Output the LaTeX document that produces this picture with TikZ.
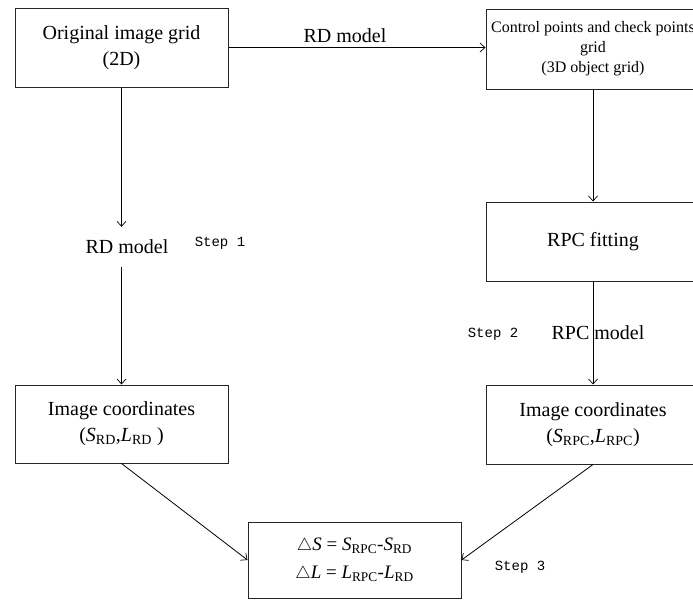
\documentclass[tikz,border=0pt]{standalone}
\usepackage{fontspec}
\setmainfont{Liberation Serif}
\newfontfamily\stepfont{Liberation Mono}
\usetikzlibrary{arrows.meta}
\begin{document}
\begin{tikzpicture}[x=1pt,y=-1pt,
  box/.style={draw=black!85,line width=1pt,minimum width=213pt,inner sep=0pt,align=center,font=\fontsize{20}{26}\selectfont},
  lbl/.style={inner sep=0pt,font=\fontsize{20}{24}\selectfont},
  steplbl/.style={inner sep=0pt,font=\stepfont\fontsize{14}{16}\selectfont},
  conn/.style={line width=0.8pt,-{Straight Barb[length=5pt,width=9pt,line width=0.7pt]}}]
\useasboundingbox (0,0) rectangle (693,603);
% boxes
\node[box,minimum height=79pt] (A) at (121.5,47.5) {Original image grid\\(2D)};
\node[box,minimum width=214pt,minimum height=80pt,font=\fontsize{16}{20}\selectfont] (B) at (593,49) {Control points and check points\\grid\\(3D object grid)};
\node[box,minimum width=214pt,minimum height=79pt] (C) at (593,241.5) {RPC fitting};
\node[box,minimum height=78pt] (D) at (121.5,424) {Image coordinates\\(\textit{S}\textsubscript{RD},\textit{L}\textsubscript{RD} )};
\node[box,minimum width=214pt,minimum height=79pt] (E) at (593,424.5) {Image coordinates\\(\textit{S}\textsubscript{RPC},\textit{L}\textsubscript{RPC})};
\node[box,minimum height=76pt,font=\fontsize{19}{28}\selectfont] (F) at (354.5,560) {$\triangle$\textit{S} = \textit{S}\textsubscript{RPC}-\textit{S}\textsubscript{RD}\\$\triangle$\textit{L} = \textit{L}\textsubscript{RPC}-\textit{L}\textsubscript{RD}};
% labels
\node[lbl] (rdtop) at (345,36) {RD model};
\node[lbl,minimum height=40pt] (rdm) at (127,247) {RD model};
\node[lbl] (rpcm) at (598,333) {RPC model};
\node[steplbl] (s1) at (220,243) {Step 1};
\node[steplbl] (s2) at (493,334) {Step 2};
\node[steplbl] (s3) at (520,567) {Step 3};
% connectors
\draw[conn] (A.east) -- (A.east -| B.west);
\draw[conn] (A.south) -- (A.south |- rdm.north);
\draw[conn] (A.south |- rdm.south) -- (D.north);
\draw[conn] (B.south) -- (C.north);
\draw[conn] (C.south) -- (E.north);
\draw[conn] (D.south) -- (F.west);
\draw[conn] (E.south) -- (F.east);
\end{tikzpicture}
\end{document}
